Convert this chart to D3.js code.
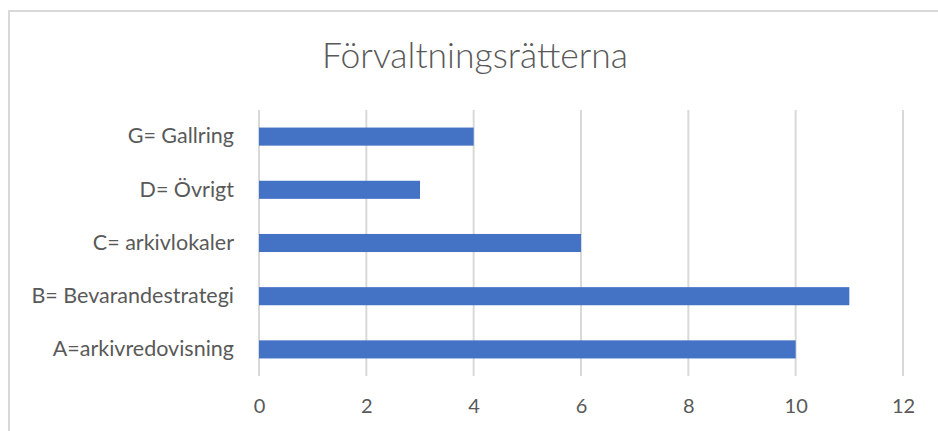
<!DOCTYPE html>
<html>
<head>
<meta charset="utf-8">
<script src="https://cdn.jsdelivr.net/npm/d3@7"></script>
<style>
  html, body { margin: 0; padding: 0; background: #fff; }
  svg { display: block; }
</style>
</head>
<body>
<svg id="chart" width="938" height="431"></svg>
<script>
const categories = ["A=arkivredovisning", "B= Bevarandestrategi", "C= arkivlokaler", "D= Övrigt", "G= Gallring"];
const values = [10, 11, 6, 3, 4];
const xTicks = [0, 2, 4, 6, 8, 10, 12];
const title = "Förvaltningsrätterna";

const svg = d3.select("#chart");
const W = 938, H = 431;
const margin = { left: 259, right: 35, top: 110, bottom: 55 };
const fontFam = "Lato, 'Open Sans', sans-serif";

// chart border
svg.append("rect")
  .attr("x", 9).attr("y", 11)
  .attr("width", W + 10).attr("height", H + 10)
  .attr("fill", "#fff").attr("stroke", "#d9d9d9").attr("stroke-width", 2);

const x = d3.scaleLinear().domain([0, 12]).range([margin.left, W - margin.right]);
const y = d3.scaleBand()
  .domain(categories.slice().reverse())
  .range([margin.top, H - margin.bottom])
  .paddingInner(0.66).paddingOuter(0.33);

// gridlines
svg.append("g").selectAll("line").data(xTicks).join("line")
  .attr("x1", d => x(d)).attr("x2", d => x(d))
  .attr("y1", margin.top).attr("y2", H - margin.bottom)
  .attr("stroke", "#d9d9d9").attr("stroke-width", 2);

// bars
svg.append("g").selectAll("rect").data(categories).join("rect")
  .attr("x", x(0))
  .attr("y", d => y(d))
  .attr("width", (d, i) => x(values[i]) - x(0))
  .attr("height", y.bandwidth())
  .attr("fill", "#4472c4");

// x axis labels
const xAxis = d3.axisBottom(x).tickValues(xTicks).tickSize(0).tickPadding(0);
const gx = svg.append("g").attr("transform", `translate(0, ${H - margin.bottom + 23})`).call(xAxis);
gx.select(".domain").remove();
gx.selectAll("text").attr("font-family", fontFam).attr("font-size", 20).attr("fill", "#595959");

// y axis labels
const yAxis = d3.axisLeft(y).tickSize(0).tickPadding(25);
const gy = svg.append("g").attr("transform", `translate(${x(0)},0)`).call(yAxis);
gy.select(".domain").remove();
gy.selectAll("text").attr("font-family", fontFam).attr("font-size", 21.5).attr("fill", "#595959");

// title
svg.append("text")
  .attr("x", 475).attr("y", 68)
  .attr("text-anchor", "middle")
  .attr("font-family", fontFam).attr("font-weight", 300).attr("font-size", 35.5)
  .attr("fill", "#595959")
  .text(title);
</script>
</body>
</html>
